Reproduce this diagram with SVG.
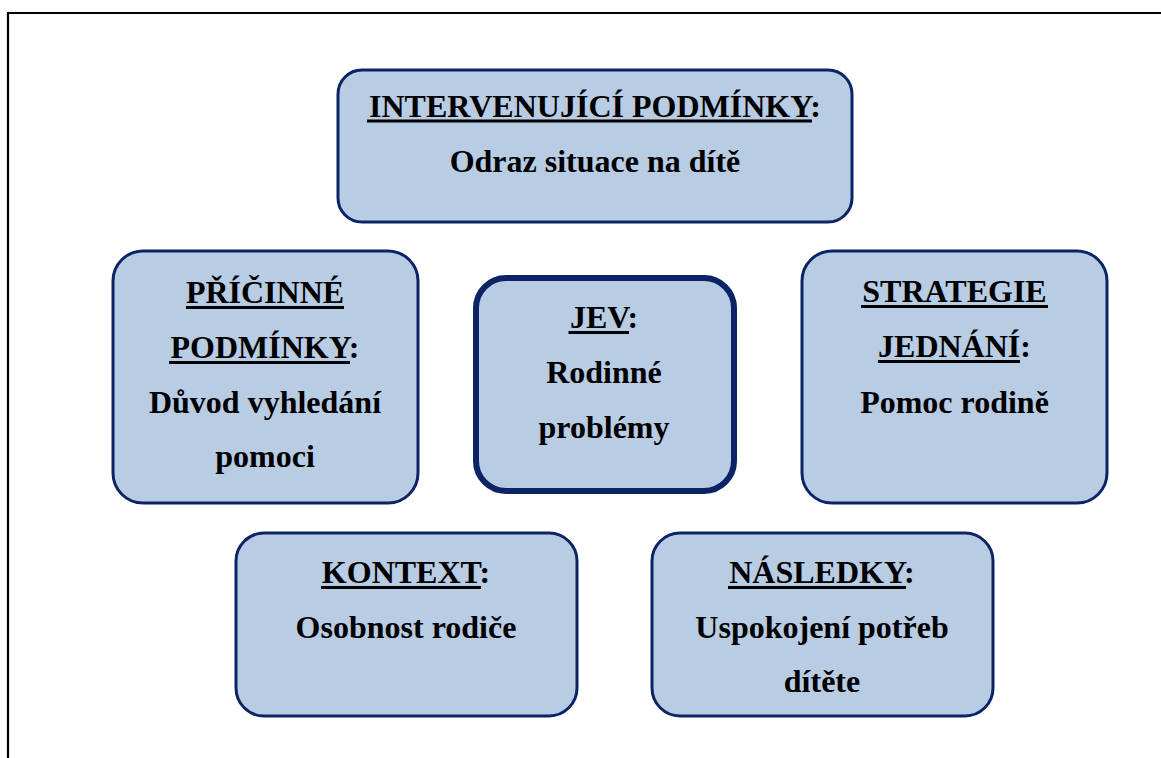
<svg xmlns="http://www.w3.org/2000/svg" width="1161" height="758" viewBox="0 0 1161 758">
<style>
.box{fill:#b8cce4;stroke:#0c2466;stroke-width:3}
.box.main{stroke-width:6}
text{font-family:"Liberation Serif","Times New Roman",serif;font-weight:bold;font-size:32px;fill:#000;text-anchor:middle}
.ul{stroke:#000;stroke-width:3}
</style>
<rect x="0" y="0" width="1161" height="758" fill="#fff"/>
<path d="M8 758 V13 H1161" fill="none" stroke="#000" stroke-width="2.2"/>
<g id="connectors"></g>
<g id="intervenujici">
<rect class="box" x="338" y="70" width="514" height="152" rx="24"/>
<text x="595" y="117">INTERVENUJÍCÍ PODMÍNKY:</text>
<line class="ul" x1="367" y1="121" x2="812" y2="121"/>
<text x="595" y="172">Odraz situace na dítě</text>
</g>
<g id="pricinne">
<rect class="box" x="113" y="251" width="305" height="252" rx="30"/>
<text x="265" y="303">PŘÍČINNÉ</text>
<line class="ul" x1="186" y1="307.5" x2="344" y2="307.5"/>
<text x="265" y="358">PODMÍNKY:</text>
<line class="ul" x1="169" y1="362.5" x2="350" y2="362.5"/>
<text x="265" y="413">Důvod vyhledání</text>
<text x="265" y="467">pomoci</text>
</g>
<g id="jev">
<rect class="box main" x="476" y="278" width="258" height="213" rx="30"/>
<text x="604" y="328">JEV:</text>
<line class="ul" x1="568.5" y1="332.5" x2="629" y2="332.5"/>
<text x="604" y="383">Rodinné</text>
<text x="604" y="438">problémy</text>
</g>
<g id="strategie">
<rect class="box" x="802" y="251" width="305" height="252" rx="30"/>
<text x="954.5" y="302">STRATEGIE</text>
<line class="ul" x1="861" y1="306.5" x2="1048" y2="306.5"/>
<text x="954.5" y="357">JEDNÁNÍ:</text>
<line class="ul" x1="878" y1="361.5" x2="1020" y2="361.5"/>
<text x="954.5" y="413">Pomoc rodině</text>
</g>
<g id="kontext">
<rect class="box" x="236" y="533" width="341" height="183" rx="28"/>
<text x="406" y="583">KONTEXT:</text>
<line class="ul" x1="321" y1="587.5" x2="481" y2="587.5"/>
<text x="406" y="638">Osobnost rodiče</text>
</g>
<g id="nasledky">
<rect class="box" x="652" y="533" width="341" height="183" rx="28"/>
<text x="822" y="583">NÁSLEDKY:</text>
<line class="ul" x1="728" y1="587.5" x2="906" y2="587.5"/>
<text x="822" y="638">Uspokojení potřeb</text>
<text x="822" y="692">dítěte</text>
</g>
</svg>
